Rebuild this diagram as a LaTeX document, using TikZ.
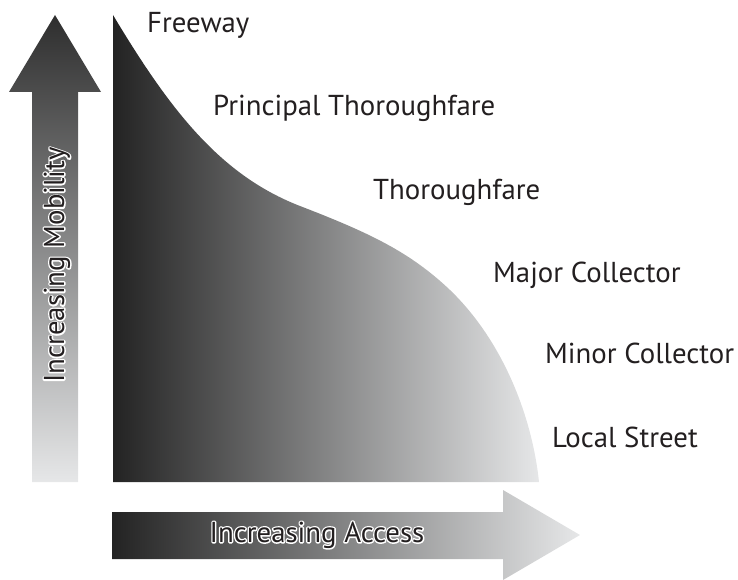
\documentclass[tikz,border=0pt]{standalone}
\usepackage{fontspec}
\setmainfont{PT Sans}
\definecolor{roaddark}{HTML}{232323}
\definecolor{roadlight}{HTML}{E6E7E8}
\definecolor{inkcol}{HTML}{231F20}
% white outline behind a label: one stroked copy, then the filled text
\newcommand\halotext[1]{\leavevmode\rlap{\special{pdf:literal direct 1 Tr 2.8 w 1 j 1 G}#1\special{pdf:literal direct 0 Tr 0 G}}#1}
\tikzset{%
  roadlabel/.style={anchor=base west,inner sep=0,text=inkcol,font=\fontsize{28.8}{32}\selectfont},
  arrowlabel/.style={inner sep=0,text=inkcol,font=\fontsize{28.8}{32}\selectfont},
  bigarrow/.style={draw=none}
}

\begin{document}
\begin{tikzpicture}[x=1pt,y=-1pt]
  \useasboundingbox (0,0) rectangle (738,580);
  % mobility arrow
  \path[bigarrow,top color=roaddark!95,bottom color=roadlight]
    (32,482) -- (32,92) -- (9,92) -- (55,15) -- (101,92) -- (78,92) -- (78,482) -- cycle;
  % access arrow
  \path[bigarrow,left color=roaddark,right color=roadlight]
    (112,512) -- (503,512) -- (503,490) -- (580,535) -- (503,580) -- (503,559) -- (112,559) -- cycle;
  % classification curve
  \path[bigarrow,left color=roaddark,right color=roadlight]
    (113,482) -- (113,15)
    .. controls (170,110) and (220,175) .. (300,206)
    .. controls (370,233) and (410,252) .. (450,290)
    .. controls (502,340) and (532,415) .. (539,482)
    -- cycle;
  \path
    (147,33) node[roadlabel] (freeway) {Freeway}
    (213,116) node[roadlabel] (principal) {Principal Thoroughfare}
    (373,199) node[roadlabel] (thoroughfare) {Thoroughfare}
    (493,282) node[roadlabel] (major) {Major Collector}
    (545,363) node[roadlabel] (minor) {Minor Collector}
    (552,447) node[roadlabel] (local) {Local Street};
  \node[arrowlabel,rotate=90] (mobility) at (57,265) {\halotext{Increasing Mobility}};
  \node[arrowlabel] (access) at (317,535) {\halotext{Increasing Access}};
\end{tikzpicture}
\end{document}
